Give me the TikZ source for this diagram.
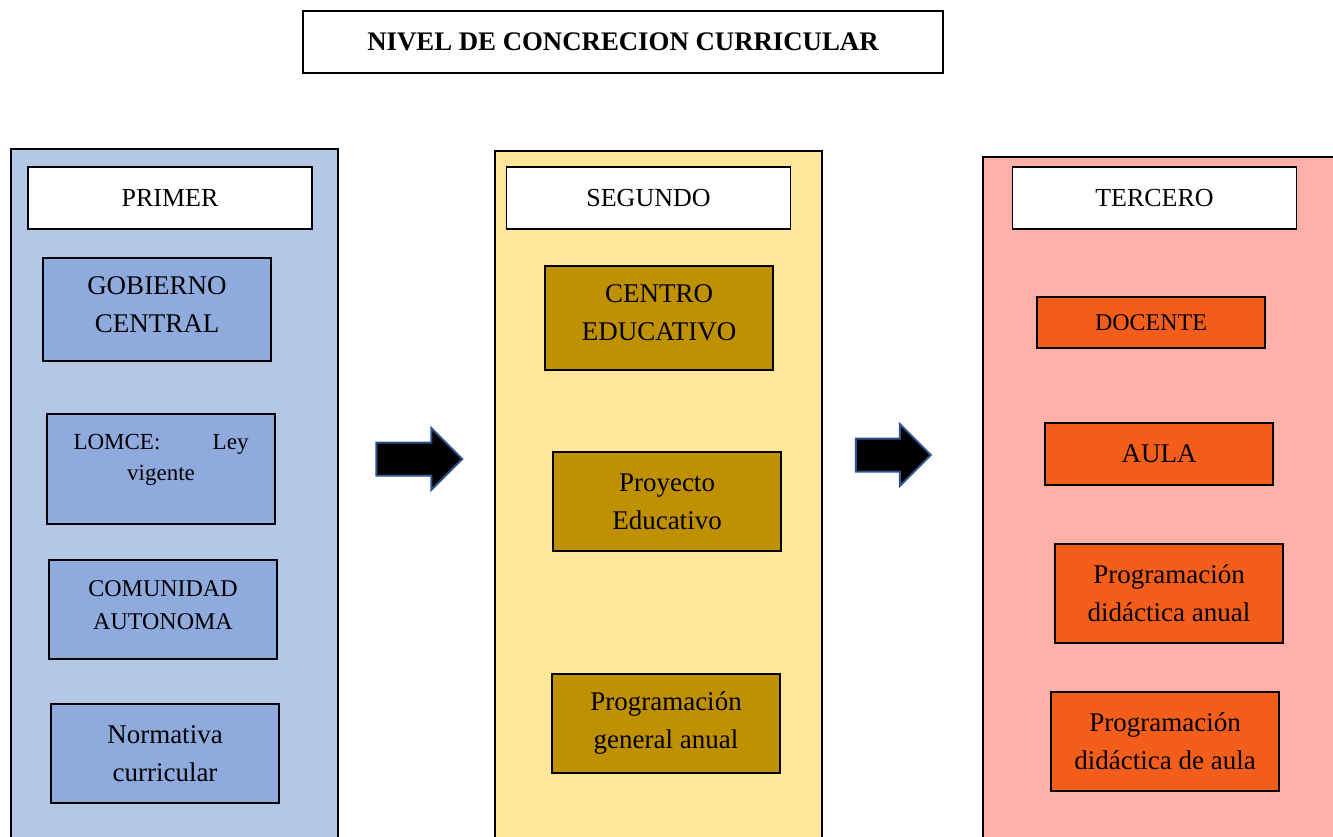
\documentclass[tikz,border=0pt]{standalone}
\usepackage{fontspec}
\setmainfont{Liberation Serif}
\usepackage{tikz}
\usetikzlibrary{calc,positioning,shapes.arrows}

\definecolor{panelA}{HTML}{B4C7E7}
\definecolor{itemA}{HTML}{8FAADC}
\definecolor{panelB}{HTML}{FFE699}
\definecolor{itemB}{HTML}{BF9000}
\definecolor{panelC}{HTML}{FFB0A8}
\definecolor{itemC}{HTML}{F55D1A}
\definecolor{arrowline}{HTML}{2F528F}

\begin{document}
\begin{tikzpicture}[x=0.5pt, y=-0.5pt,
    panel/.style={draw=black, line width=0.8pt},
    header/.style={draw=black, line width=0.8pt, fill=white, minimum width=142pt, minimum height=31pt, font=\fontsize{13}{16}\selectfont},
    levelbox/.style={draw=black, line width=0.8pt, minimum width=114pt, align=center, font=\fontsize{13.5}{19}\selectfont},
    blockarrow/.style={single arrow, draw=arrowline, line width=1pt, fill=black, inner sep=7.75pt, single arrow head extend=7.25pt}]
    \useasboundingbox (0,0) rectangle (1333,836);

    % title
    \node[draw=black, line width=0.8pt, minimum width=320pt, minimum height=31pt, font=\fontsize{13.4}{16}\selectfont\bfseries] (title) at (623,42) {NIVEL DE CONCRECION CURRICULAR\\[-4pt]\mbox{}};

    % panels
    \draw[panel, fill=panelA] (11,149) rectangle (338,850);
    \draw[panel, fill=panelB] (495,151) rectangle (822,850);
    \draw[panel, fill=panelC] (983,157) rectangle (1345,850);

    \node[header] (primer) at (170,198) {PRIMER};
    \node[header] (segundo) at (648.5,198) {SEGUNDO};
    \node[header] (tercero) at (1154.5,198) {TERCERO};

    % primer nivel
    \node[levelbox, fill=itemA, minimum height=51.5pt] (gobierno) at (157,309.5) {GOBIERNO\\CENTRAL\\[-14pt]\mbox{}};
    \node[levelbox, fill=itemA, minimum height=55pt, font=\fontsize{11.5}{15.5}\selectfont] (lomce) at (161,469) {\makebox[87.5pt]{LOMCE:\hfill Ley}\\vigente\\[-3.5pt]\mbox{}};
    \node[levelbox, fill=itemA, minimum height=49.5pt, font=\fontsize{12}{16.5}\selectfont] (comunidad) at (163,609.5) {COMUNIDAD\\AUTONOMA\\[-12pt]\mbox{}};
    \node[levelbox, fill=itemA, minimum height=49.5pt] (normativa) at (165,753.5) {Normativa\\curricular};

    % segundo nivel
    \node[levelbox, fill=itemB, minimum height=52pt] (centro) at (659,318) {CENTRO\\EDUCATIVO\\[-14pt]\mbox{}};
    \node[levelbox, fill=itemB, minimum height=49.5pt] (proyecto) at (667,501.5) {Proyecto\\Educativo};
    \node[levelbox, fill=itemB, minimum height=49.5pt] (pga) at (666,723.5) {Programación\\general anual};

    % tercer nivel
    \node[levelbox, fill=itemC, minimum height=25.5pt, font=\fontsize{12}{15}\selectfont] (docente) at (1151,322.5) {DOCENTE};
    \node[levelbox, fill=itemC, minimum height=31pt] (aula) at (1159,454) {AULA};
    \node[levelbox, fill=itemC, minimum height=49.5pt] (pdanual) at (1169,593.5) {Programación\\didáctica anual};
    \node[levelbox, fill=itemC, minimum height=49.5pt] (pdaula) at (1165,741.5) {Programación\\didáctica de aula};

    % flechas
    \node[blockarrow, minimum height=43pt] (arrowA) at (411,459) {};
    \node[blockarrow, minimum height=37.5pt] (arrowB) at (885,455) {};
\end{tikzpicture}
\end{document}
